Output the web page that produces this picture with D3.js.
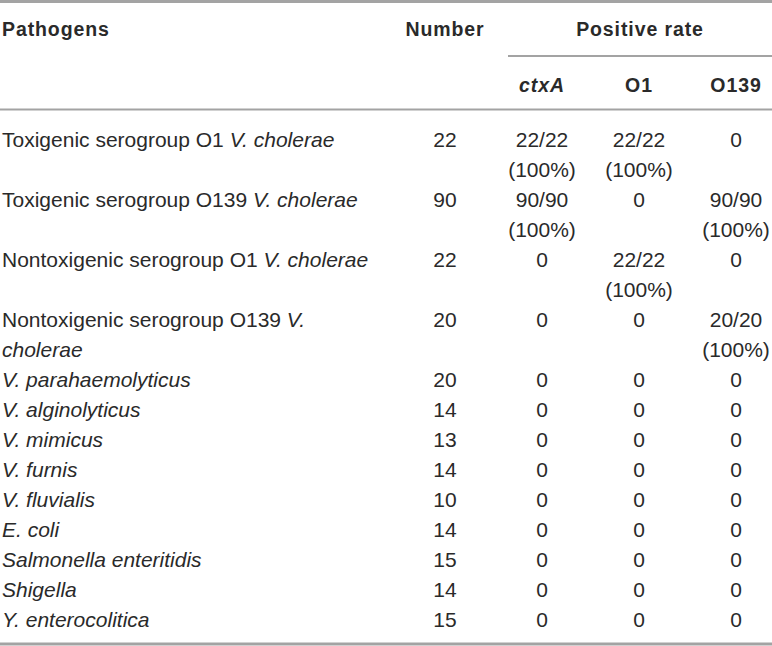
<!DOCTYPE html>
<html>
<head>
<meta charset="utf-8">
<script src="https://cdn.jsdelivr.net/npm/d3@7"></script>
<style>
  html, body { margin: 0; padding: 0; background: #fff; }
  svg { display: block; font-family: "Liberation Sans", Arial, Helvetica, sans-serif; }
</style>
</head>
<body>
<div id="chart"></div>
<script>
// Table content. *text* marks italic runs, \n marks a line break inside a cell.
const pathogens = [
  'Toxigenic serogroup O1 *V. cholerae*',
  'Toxigenic serogroup O139 *V. cholerae*',
  'Nontoxigenic serogroup O1 *V. cholerae*',
  'Nontoxigenic serogroup O139 *V.*\n*cholerae*',
  '*V. parahaemolyticus*',
  '*V. alginolyticus*',
  '*V. mimicus*',
  '*V. furnis*',
  '*V. fluvialis*',
  '*E. coli*',
  '*Salmonella enteritidis*',
  '*Shigella*',
  '*Y. enterocolitica*'
];
const numbers = [22, 90, 22, 20, 20, 14, 13, 14, 10, 14, 15, 14, 15];
const ctxA = ['22/22\n(100%)', '90/90\n(100%)', '0', '0', '0', '0', '0', '0', '0', '0', '0', '0', '0'];
const o1 = ['22/22\n(100%)', '0', '22/22\n(100%)', '0', '0', '0', '0', '0', '0', '0', '0', '0', '0'];
const o139 = ['0', '90/90\n(100%)', '0', '20/20\n(100%)', '0', '0', '0', '0', '0', '0', '0', '0', '0'];
const valueColumns = ['Number', 'ctxA', 'O1', 'O139'];
const subHeaders = [
  { key: 'ctxA', label: '*ctxA*' },
  { key: 'O1', label: 'O1' },
  { key: 'O139', label: 'O139' }
];

const width = 772;
const height = 646;
const lineHeight = 30;
const ruleColor = '#a3a3a3';
const textColor = '#2a2a2a';

const svg = d3.select('#chart')
  .append('svg')
  .attr('width', width)
  .attr('height', height);

// split "*a* b" into [{text, italic}]
function segments(str) {
  return str.split('*').map((t, i) => ({ text: t, italic: i % 2 === 1 })).filter(s => s.text.length);
}

// draw a (possibly multi-line, mixed italic) label
function drawCell(g, str, x, y, anchor, opts = {}) {
  const lines = str.split('\n');
  lines.forEach((line, li) => {
    const t = g.append('text')
      .attr('x', x)
      .attr('y', y + li * lineHeight)
      .attr('text-anchor', anchor)
      .attr('fill', textColor)
      .attr('font-size', opts.size || 21)
      .attr('font-weight', opts.bold ? 'bold' : 'normal')
      .attr('letter-spacing', opts.spacing || 0);
    segments(line).forEach(s => {
      t.append('tspan')
        .attr('font-style', s.italic ? 'italic' : 'normal')
        .text(s.text);
    });
  });
}

// column scale for the numeric columns
const x = d3.scalePoint()
  .domain(valueColumns)
  .range([445, 736]);

// row line offsets
const rowLines = pathogens.map((p, i) =>
  Math.max(p.split('\n').length, ctxA[i].split('\n').length, o1[i].split('\n').length, o139[i].split('\n').length));
const rowStart = [];
rowLines.reduce((acc, n, i) => { rowStart[i] = acc; return acc + n; }, 0);
const totalLines = d3.sum(rowLines);

const y = d3.scaleLinear()
  .domain([0, totalLines])
  .range([147, 147 + totalLines * lineHeight]);

// rules
const rules = svg.append('g');
rules.append('line').attr('x1', 0).attr('x2', width).attr('y1', 1.5).attr('y2', 1.5)
  .attr('stroke', ruleColor).attr('stroke-width', 3);
rules.append('line').attr('x1', 508).attr('x2', width).attr('y1', 56).attr('y2', 56)
  .attr('stroke', ruleColor).attr('stroke-width', 2);
rules.append('line').attr('x1', 0).attr('x2', width).attr('y1', 109.5).attr('y2', 109.5)
  .attr('stroke', ruleColor).attr('stroke-width', 2);
rules.append('line').attr('x1', 0).attr('x2', width).attr('y1', 644).attr('y2', 644)
  .attr('stroke', ruleColor).attr('stroke-width', 3);

// header
const head = svg.append('g');
const headOpts = { bold: true, size: 19.5, spacing: 0.9 };
drawCell(head, 'Pathogens', 2, 36, 'start', headOpts);
drawCell(head, 'Number', x('Number'), 36, 'middle', headOpts);
drawCell(head, 'Positive rate', 640, 36, 'middle', headOpts);
subHeaders.forEach(h => {
  drawCell(head, h.label, x(h.key), 92, 'middle', headOpts);
});

// body rows
const body = svg.append('g');
pathogens.forEach((p, i) => {
  const yy = y(rowStart[i]);
  const row = body.append('g');
  drawCell(row, p, 2, yy, 'start');
  drawCell(row, String(numbers[i]), x('Number'), yy, 'middle');
  drawCell(row, ctxA[i], x('ctxA'), yy, 'middle');
  drawCell(row, o1[i], x('O1'), yy, 'middle');
  drawCell(row, o139[i], x('O139'), yy, 'middle');
});
</script>
</body>
</html>
